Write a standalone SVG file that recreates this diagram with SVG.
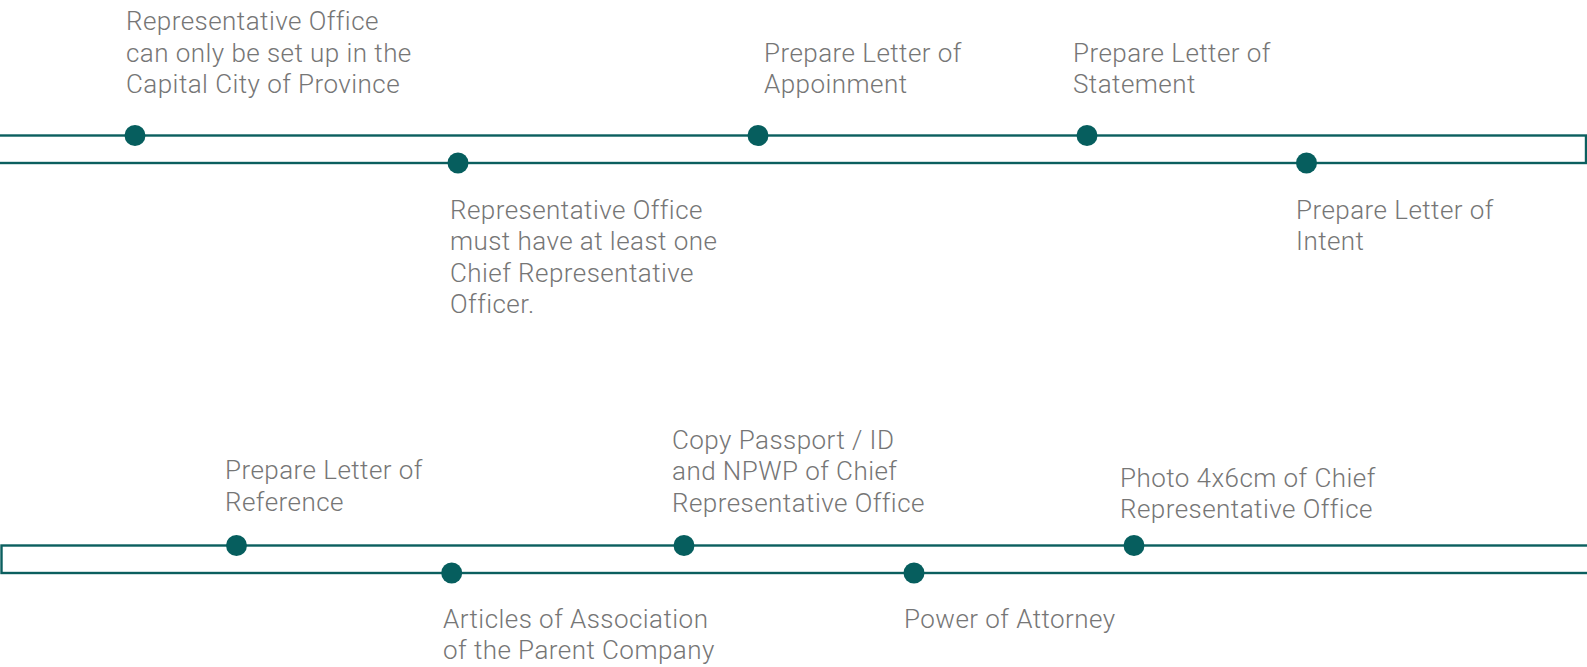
<svg xmlns="http://www.w3.org/2000/svg" width="1587" height="667" viewBox="0 0 1587 667">
<style>
.band{fill:none;stroke:#0b5f5f;stroke-width:2.4}
.dot{fill:#065e5e}
.lbl{font-family:Roboto,"Liberation Sans",sans-serif;font-size:26px;font-weight:300;fill:#767676;letter-spacing:0.45px}
</style>
<rect width="1587" height="667" fill="#ffffff"/>
<g id="connectors">
<rect class="band" x="-5" y="135.5" width="1591" height="27.5"/>
<rect class="band" x="1.5" y="545.5" width="1595" height="27.5"/>
</g>
<g id="n1">
<circle class="dot" cx="135" cy="135.5" r="10.5"/>
<text class="lbl" x="126" y="30"><tspan x="126">Representative Office</tspan><tspan x="126" y="61.5">can only be set up in the</tspan><tspan x="126" y="93">Capital City of Province</tspan></text>
</g>
<g id="n2">
<circle class="dot" cx="458" cy="163" r="10.5"/>
<text class="lbl" x="450" y="218.5"><tspan x="450">Representative Office</tspan><tspan x="450" y="250">must have at least one</tspan><tspan x="450" y="281.5">Chief Representative</tspan><tspan x="450" y="313">Officer.</tspan></text>
</g>
<g id="n3">
<circle class="dot" cx="758" cy="135.5" r="10.5"/>
<text class="lbl" x="764" y="61.5"><tspan x="764">Prepare Letter of</tspan><tspan x="764" y="93">Appoinment</tspan></text>
</g>
<g id="n4">
<circle class="dot" cx="1087" cy="135.5" r="10.5"/>
<text class="lbl" x="1073" y="61.5"><tspan x="1073">Prepare Letter of</tspan><tspan x="1073" y="93">Statement</tspan></text>
</g>
<g id="n5">
<circle class="dot" cx="1306.5" cy="163" r="10.5"/>
<text class="lbl" x="1296" y="218.5"><tspan x="1296">Prepare Letter of</tspan><tspan x="1296" y="250">Intent</tspan></text>
</g>
<g id="n6">
<circle class="dot" cx="236.5" cy="545.5" r="10.5"/>
<text class="lbl" x="225" y="479"><tspan x="225">Prepare Letter of</tspan><tspan x="225" y="510.5">Reference</tspan></text>
</g>
<g id="n7">
<circle class="dot" cx="451.7" cy="573" r="10.5"/>
<text class="lbl" x="443" y="627.5"><tspan x="443">Articles of Association</tspan><tspan x="443" y="659">of the Parent Company</tspan></text>
</g>
<g id="n8">
<circle class="dot" cx="684" cy="545.5" r="10.5"/>
<text class="lbl" x="672" y="448.5"><tspan x="672">Copy Passport / ID</tspan><tspan x="672" y="480">and NPWP of Chief</tspan><tspan x="672" y="511.5">Representative Office</tspan></text>
</g>
<g id="n9">
<circle class="dot" cx="914" cy="573" r="10.5"/>
<text class="lbl" x="904" y="627.5"><tspan x="904">Power of Attorney</tspan></text>
</g>
<g id="n10">
<circle class="dot" cx="1134" cy="545.5" r="10.5"/>
<text class="lbl" x="1120" y="486.5"><tspan x="1120">Photo 4x6cm of Chief</tspan><tspan x="1120" y="518">Representative Office</tspan></text>
</g>
</svg>
